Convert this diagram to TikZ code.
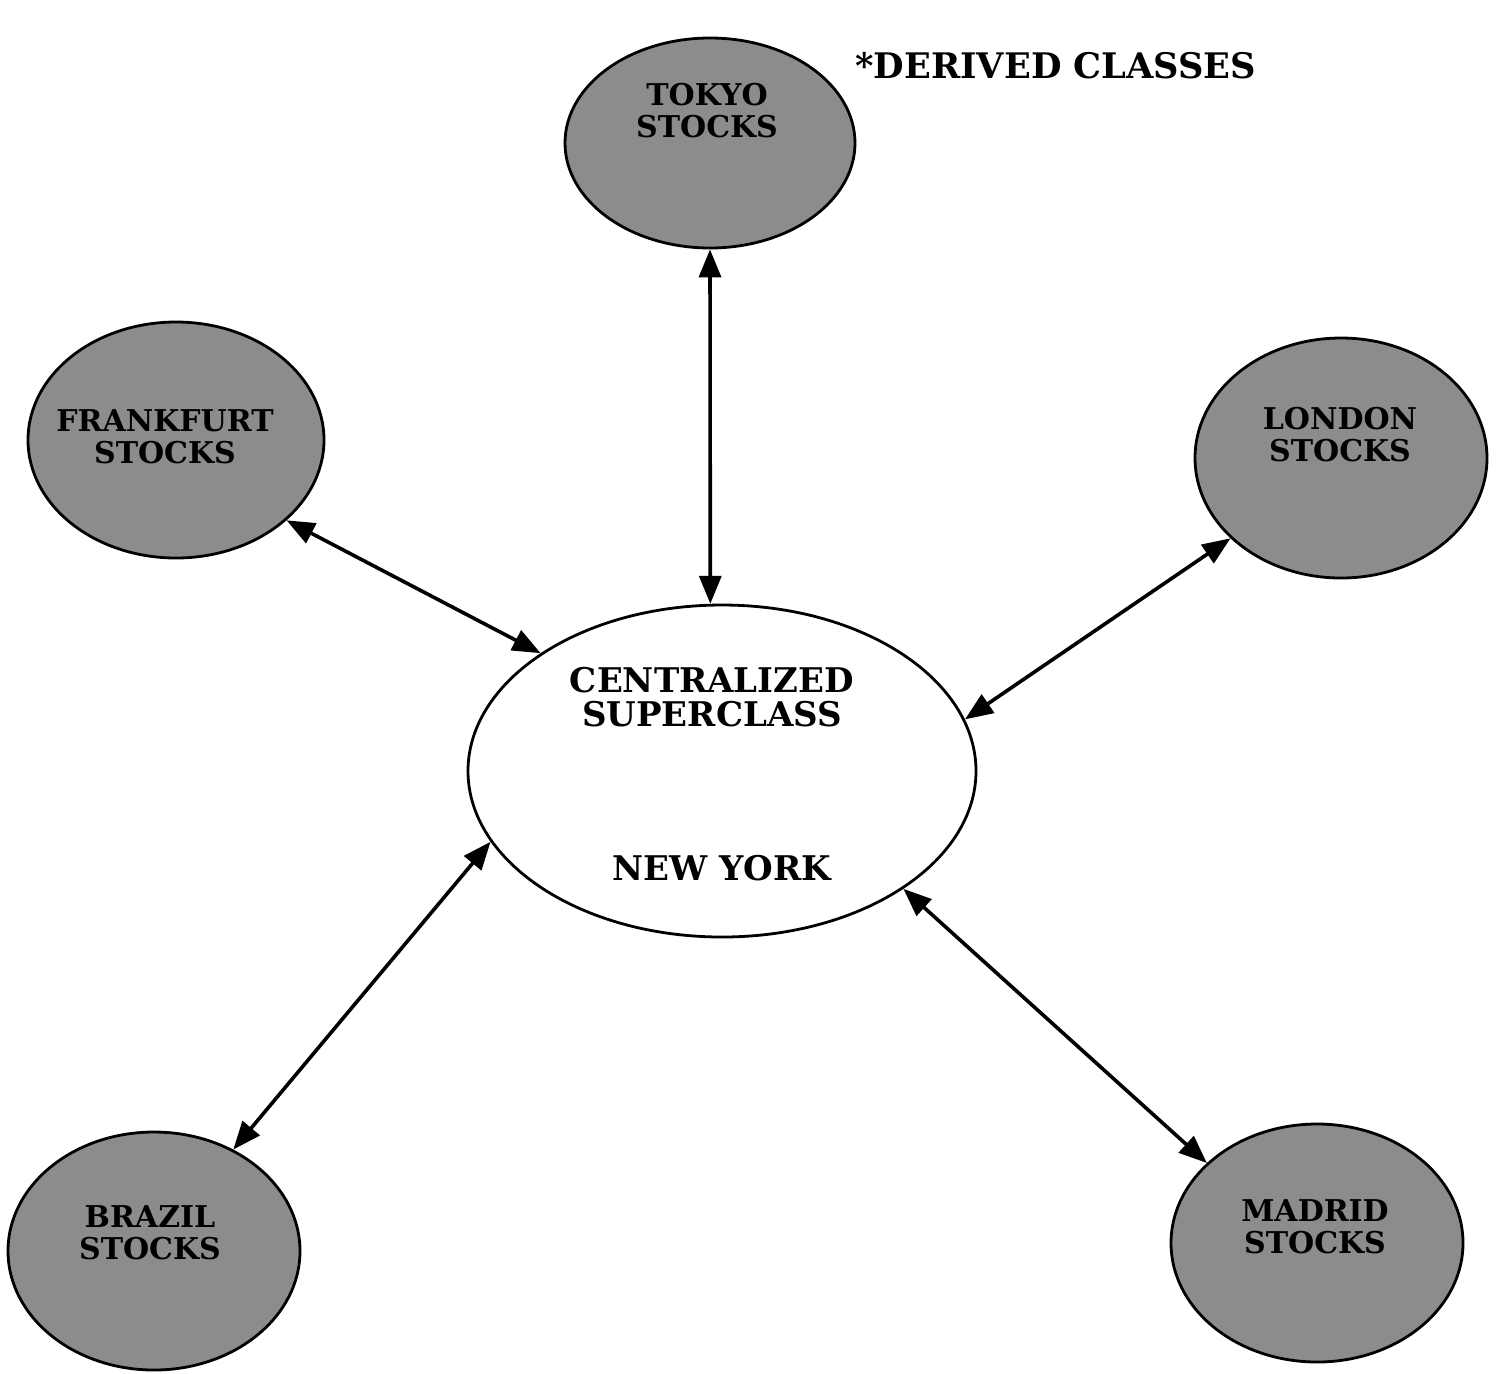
\documentclass[tikz,border=0pt]{standalone}
\usepackage{fontspec}
\setmainfont{DejaVu Serif}
\usetikzlibrary{shapes.geometric,arrows.meta}
\tikzset{
  city/.style={ellipse, draw=black, line width=1.4pt, fill=black!45, inner sep=0pt},
  hub/.style={ellipse, draw=black, line width=1.4pt, fill=white, inner sep=0pt},
  lbl/.style={align=center, inner sep=0pt, font=\bfseries\fontsize{15}{16}\selectfont},
  biglbl/.style={align=center, inner sep=0pt, font=\bfseries\fontsize{17}{17}\selectfont},
  link/.style={line width=1.8pt, {Triangle[length=14pt,width=11pt]}-{Triangle[length=14pt,width=11pt]}}
}
\begin{document}
\begin{tikzpicture}[x=0.5pt,y=-0.5pt]
\useasboundingbox (0,0) rectangle (1498,1373);
% ellipses
\node[city, minimum width=145pt, minimum height=105pt] (tokyo) at (710,143) {};
\node[city, minimum width=148pt, minimum height=118pt] (frank) at (176,440) {};
\node[city, minimum width=146pt, minimum height=120pt] (london) at (1341,458) {};
\node[city, minimum width=146pt, minimum height=119pt] (brazil) at (154,1251) {};
\node[city, minimum width=146pt, minimum height=119pt] (madrid) at (1317,1243) {};
\node[hub, minimum width=254pt, minimum height=166pt] (central) at (722,771) {};
% labels
\node[lbl] (tokyot) at (707,111) {TOKYO\\STOCKS};
\node[lbl] (frankt) at (165,437) {FRANKFURT\\STOCKS};
\node[lbl] (londont) at (1340,435) {LONDON\\STOCKS};
\node[lbl] (brazilt) at (150,1233) {BRAZIL\\STOCKS};
\node[lbl] (madridt) at (1315,1227) {MADRID\\STOCKS};
\node[biglbl] (centralt) at (712,697) {CENTRALIZED\\SUPERCLASS};
\node[biglbl] (nyt) at (722,868) {NEW YORK};
\node[anchor=west, inner sep=0pt, font=\bfseries\fontsize{17.6}{20}\selectfont] (derived) at (855,66) {*DERIVED CLASSES};
% connectors
\draw[link] (tokyo.south) -- (central.94);
\draw[link] (frank.-36) -- (central.147);
\draw[link] (london.216) -- (central.12.5);
\draw[link] (brazil.52) -- (central.197.5);
\draw[link] (madrid.144) -- (central.-33.4);
\end{tikzpicture}
\end{document}
